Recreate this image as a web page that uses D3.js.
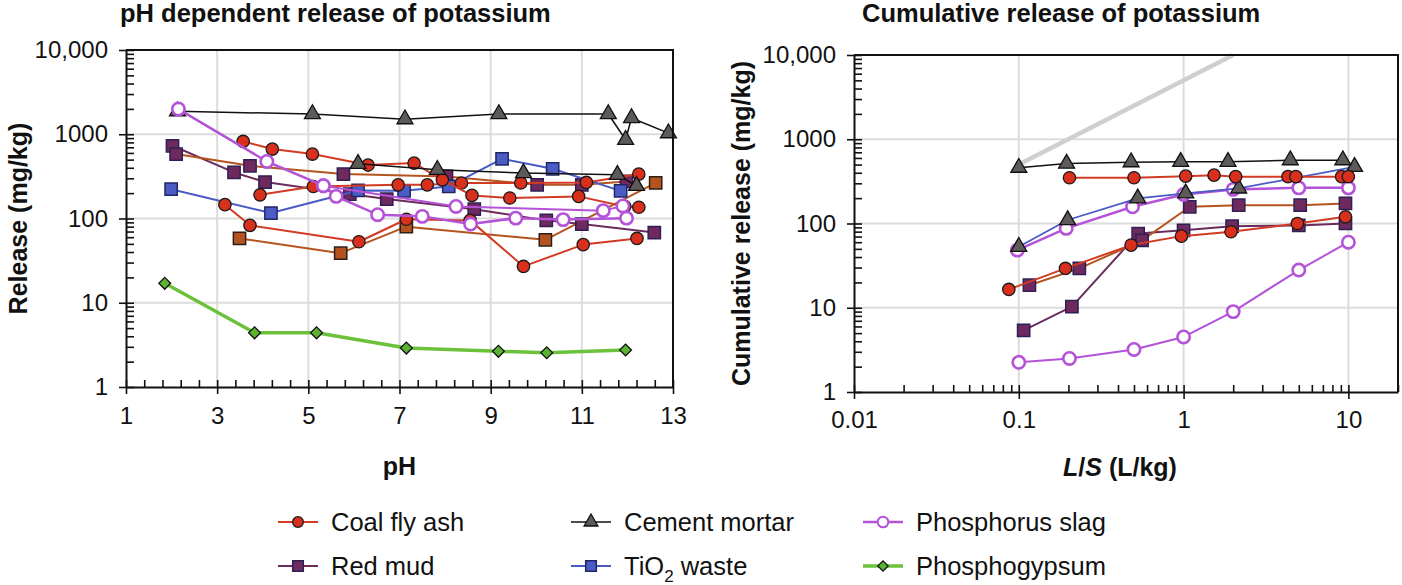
<!DOCTYPE html>
<html><head><meta charset="utf-8">
<script src="https://cdn.jsdelivr.net/npm/d3@7"></script>
<style>body{margin:0;background:#fff}svg{display:block;font-family:"Liberation Sans",Arial,sans-serif}</style>
</head><body><svg id="c" width="1402" height="585"></svg>
<script>
// ---------- DATA: pH dependent release (pH, mg/kg) ----------
const phCoalFlyAsh1 = [[3.57,822],[4.21,667],[5.09,582],[6.31,431],[7.32,455],[7.94,288],[8.59,188],[9.42,175],[10.93,183],[11.94,139],[12.25,136]];
const phCoalFlyAsh2 = [[3.94,191],[5.11,240],[6.97,251],[7.61,251],[8.36,264],[9.66,264],[11.1,268],[12.25,337]];
const phCoalFlyAsh3 = [[3.17,146],[3.72,83],[6.11,53],[7.15,98],[8.55,95],[9.72,27],[11.03,49],[12.21,58]];
const phCement1 = [[2.13,1870],[5.09,1740],[7.12,1510],[9.18,1740],[11.58,1740],[11.96,860],[12.09,1560],[12.9,1030]];
const phCement2 = [[6.09,446],[7.83,379],[9.72,346],[11.78,330],[12.2,244]];
const phRedMud1 = [[2.02,730],[3.37,352],[4.05,271],[5.91,195],[6.72,170],[8.64,129],[10.22,95],[11.0,86],[12.59,68]];
const phRedMud2 = [[2.1,582],[3.72,422],[5.77,337],[8.03,316],[10.02,251],[11.0,251],[11.98,275]];
const phRedMud3 = [[3.49,58],[5.71,38.8],[7.15,80],[10.2,55.8],[12.62,264]];
const phTiO2 = [[1.99,223],[4.18,116],[6.09,215],[7.1,213],[8.08,240],[9.25,511],[10.36,389],[11.85,213]];
const phPSlag1 = [[2.15,1990],[4.09,475],[5.33,245],[5.61,183],[6.52,111],[7.5,106],[8.56,86],[9.55,101],[10.59,97],[11.98,101]];
const phPSlag2 = [[5.33,245],[8.24,139],[11.47,124],[11.9,141]];
const phPhosphogypsum = [[1.85,17],[3.82,4.4],[5.18,4.4],[7.15,2.9],[9.17,2.65],[10.23,2.55],[11.96,2.75]];

// ---------- DATA: cumulative release (L/S, mg/kg) ----------
const lsCement1 = [[0.1,460],[0.195,515],[0.48,535],[0.96,540],[1.86,540],[4.44,565],[9.25,565]];
const lsCement2 = [[0.1,53],[0.198,110],[0.527,199],[1.03,228],[2.16,261],[10.9,471]];
const lsCoalFlyAsh1 = [[0.203,349],[0.5,349],[1.03,365],[1.53,375],[2.07,360],[4.3,360],[4.8,360],[9.1,360],[9.99,360]];
const lsCoalFlyAsh2 = [[0.087,16.5],[0.192,29.3],[0.48,55.4],[0.97,70.8],[1.94,79.8],[4.9,100],[9.6,120]];
const lsRedMud1 = [[0.116,18.5],[0.233,29.3],[0.56,63],[1.09,158],[2.16,165],[5.1,165],[9.6,173]];
const lsRedMud2 = [[0.107,5.4],[0.21,10.3],[0.53,76],[1.0,83],[1.97,93],[5.0,95],[9.6,100]];
const lsPSlag1 = [[0.098,48.3],[0.194,87.5],[0.49,158],[1.0,221],[2.0,254],[5.0,265],[10,265]];
const lsPSlag2 = [[0.1,2.25],[0.203,2.5],[0.5,3.2],[1.0,4.5],[2.0,9.0],[5.0,28],[10,60]];
const lsLimit = [[0.1,500],[2,10000]];

// ---------- TICKS / LABELS ----------
const phTicks = [1,3,5,7,9,11,13];
const logTicks = [1,10,100,1000,10000];
const logTickLabels = ["1","10","100","1000","10,000"];
const lsTicks = [0.01,0.1,1,10];
const lsTickLabels = ["0.01","0.1","1","10"];
const legendLabels = ["Coal fly ash","Cement mortar","Phosphorus slag","Red mud","TiO2 waste","Phosphogypsum"];
const titles = ["pH dependent release of potassium","Cumulative release of potassium"];

// ---------- STYLES ----------
const ST = {
  cfa:   {line:"#d23a24", lw:2,   marker:"circle",   fill:"#d9301e", stroke:"#1a1a1a", sw:1.3, size:120},
  cem:   {line:"#111",    lw:1.5, marker:"triangle", fill:"#5e5a5a", stroke:"#111",    sw:1.3, size:110},
  cemB:  {line:"#4a5ac5", lw:1.8, marker:"triangle", fill:"#5e5a5a", stroke:"#111",    sw:1.3, size:110},
  rm:    {line:"#6b2c5c", lw:2,   marker:"square",   fill:"#6e2a5e", stroke:"#2e1f55", sw:1.5, size:150},
  rmB:   {line:"#b5541f", lw:2,   marker:"square",   fill:"#6e2a5e", stroke:"#2e1f55", sw:1.5, size:150},
  brown: {line:"#b5541f", lw:2,   marker:"square",   fill:"#b5531e", stroke:"#2b2018", sw:1.5, size:150},
  tio2:  {line:"#4a5ac5", lw:2,   marker:"square",   fill:"#4b5cc4", stroke:"#1f2766", sw:1.5, size:150},
  ps:    {line:"#b452d8", lw:2.5, marker:"circle",   fill:"#fff",    stroke:"#b452d8", sw:2.6, size:120},
  psThin:{line:"#b452d8", lw:2,   marker:"circle",   fill:"#fff",    stroke:"#b452d8", sw:2.6, size:120},
  pg:    {line:"#6cc13a", lw:3.5, marker:"diamond",  fill:"#5db233", stroke:"#111",    sw:1.3, size:70},
  limit: {line:"#cfcfcf", lw:4.5, marker:null}
};
const TICK_FS = 24, TITLE_FS = 25.5, AXT_FS = 25, LEG_FS = 25.5;

const svg = d3.select("#c");

function symbolPath(st){
  const t = st.marker==="circle"?d3.symbolCircle:st.marker==="triangle"?d3.symbolTriangle:d3.symbolSquare;
  return d3.symbol().type(t).size(st.size)();
}
function drawSeries(g, xs, ys, data, st){
  g.append("path").datum(data)
    .attr("d", d3.line().x(d=>xs(d[0])).y(d=>ys(d[1])))
    .attr("fill","none").attr("stroke",st.line).attr("stroke-width",st.lw)
    .attr("stroke-linejoin","round");
  if(!st.marker) return;
  g.selectAll(null).data(data).join("path")
    .attr("transform", d=>`translate(${xs(d[0])},${ys(d[1])})${st.marker==="diamond"?" rotate(45)":""}`)
    .attr("d", symbolPath(st))
    .attr("fill",st.fill).attr("stroke",st.stroke).attr("stroke-width",st.sw);
}
function styleAxis(g){
  g.select(".domain").attr("stroke","#111").attr("stroke-width",2);
  g.selectAll(".tick line").attr("stroke","#111").attr("stroke-width",1.6);
  g.selectAll("text").attr("font-size",TICK_FS).attr("fill","#111")
    .attr("font-family",'"Liberation Sans",Arial,sans-serif');
}
const labelOf = (vals, labs) => d => labs[vals.indexOf(d)];

// ================= LEFT CHART =================
const L = {x0:126, x1:673, y0:50, y1:387};
const xL = d3.scaleLinear().domain([1,13]).range([L.x0,L.x1]);
const yL = d3.scaleLog().domain([1,10000]).range([L.y1,L.y0]);
const minorLog = d3.range(0,4).flatMap(e=>d3.range(1,10).map(m=>m*Math.pow(10,e))).concat([10000]);

const gl = svg.append("g");
gl.selectAll(null).data(phTicks.slice(1,-1)).join("line")
  .attr("x1",d=>xL(d)).attr("x2",d=>xL(d)).attr("y1",L.y0).attr("y2",L.y1)
  .attr("stroke","#dcdcdc").attr("stroke-width",2);
gl.selectAll(null).data(logTicks.slice(1,-1)).join("line")
  .attr("y1",d=>yL(d)).attr("y2",d=>yL(d)).attr("x1",L.x0).attr("x2",L.x1)
  .attr("stroke","#dcdcdc").attr("stroke-width",2);

drawSeries(gl,xL,yL,phRedMud3,ST.brown);
drawSeries(gl,xL,yL,phRedMud1,ST.rm);
drawSeries(gl,xL,yL,phRedMud2,ST.rmB);
drawSeries(gl,xL,yL,phTiO2,ST.tio2);
drawSeries(gl,xL,yL,phCoalFlyAsh3,ST.cfa);
drawSeries(gl,xL,yL,phCoalFlyAsh2,ST.cfa);
drawSeries(gl,xL,yL,phCoalFlyAsh1,ST.cfa);
drawSeries(gl,xL,yL,phCement2,ST.cem);
drawSeries(gl,xL,yL,phCement1,ST.cem);
drawSeries(gl,xL,yL,phPSlag2,ST.psThin);
drawSeries(gl,xL,yL,phPSlag1,ST.ps);
drawSeries(gl,xL,yL,phPhosphogypsum,ST.pg);

const phMinor = d3.range(0,31).map(i=>1+i*0.4);
const axLx = gl.append("g").attr("transform",`translate(0,${L.y1})`)
  .call(d3.axisBottom(xL).tickValues(phTicks).tickSize(7).tickSizeOuter(0).tickPadding(13).tickFormat(d3.format("d")));
styleAxis(axLx);
const axLx2 = gl.append("g").attr("transform",`translate(0,${L.y1})`)
  .call(d3.axisTop(xL).tickValues(phMinor).tickSize(7).tickSizeOuter(0).tickFormat(""));
styleAxis(axLx2); axLx2.select(".domain").remove();
const axLy = gl.append("g").attr("transform",`translate(${L.x0},0)`)
  .call(d3.axisLeft(yL).tickValues(logTicks).tickSize(7).tickSizeOuter(0).tickPadding(11).tickFormat(labelOf(logTicks,logTickLabels)));
styleAxis(axLy);
const axLy2 = gl.append("g").attr("transform",`translate(${L.x0},0)`)
  .call(d3.axisRight(yL).tickValues(minorLog).tickSize(8).tickSizeOuter(0).tickFormat(""));
styleAxis(axLy2); axLy2.select(".domain").remove();
gl.append("path").attr("d",`M${L.x0},${L.y0}H${L.x1}V${L.y1}`).attr("fill","none").attr("stroke","#111").attr("stroke-width",2);

gl.append("text").attr("x",120).attr("y",22).text(titles[0])
  .attr("font-size",TITLE_FS).attr("font-weight","bold").attr("fill","#111");
gl.append("text").attr("transform",`translate(27,${(L.y0+L.y1)/2}) rotate(-90)`).attr("text-anchor","middle")
  .text("Release (mg/kg)").attr("font-size",AXT_FS).attr("font-weight","bold").attr("fill","#111");
gl.append("text").attr("x",(L.x0+L.x1)/2).attr("y",475).attr("text-anchor","middle")
  .text("pH").attr("font-size",AXT_FS).attr("font-weight","bold").attr("fill","#111");

// ================= RIGHT CHART =================
const R = {x0:854, x1:1398, y0:55, y1:392};
const xR = d3.scaleLog().domain([0.01,20]).range([R.x0,R.x1]);
const yR = d3.scaleLog().domain([1,10000]).range([R.y1,R.y0]);
const lsMinor = [-2,-1,0,1].flatMap(e=>d3.range(1,10).map(m=>m*Math.pow(10,e))).filter(v=>v<=20.0001);

const gr = svg.append("g");
gr.selectAll(null).data(lsTicks.slice(1)).join("line")
  .attr("x1",d=>xR(d)).attr("x2",d=>xR(d)).attr("y1",R.y0).attr("y2",R.y1)
  .attr("stroke","#dcdcdc").attr("stroke-width",2);
gr.selectAll(null).data(logTicks.slice(1,-1)).join("line")
  .attr("y1",d=>yR(d)).attr("y2",d=>yR(d)).attr("x1",R.x0).attr("x2",R.x1)
  .attr("stroke","#dcdcdc").attr("stroke-width",2);

drawSeries(gr,xR,yR,lsLimit,ST.limit);
drawSeries(gr,xR,yR,lsRedMud2,ST.rm);
drawSeries(gr,xR,yR,lsRedMud1,ST.rmB);
drawSeries(gr,xR,yR,lsCoalFlyAsh2,ST.cfa);
drawSeries(gr,xR,yR,lsPSlag2,ST.psThin);
drawSeries(gr,xR,yR,lsPSlag1,ST.ps);
drawSeries(gr,xR,yR,lsCement2,ST.cemB);
drawSeries(gr,xR,yR,lsCoalFlyAsh1,ST.cfa);
drawSeries(gr,xR,yR,lsCement1,ST.cem);

const axRx = gr.append("g").attr("transform",`translate(0,${R.y1})`)
  .call(d3.axisBottom(xR).tickValues(lsTicks).tickSize(7).tickSizeOuter(0).tickPadding(12).tickFormat(labelOf(lsTicks,lsTickLabels)));
styleAxis(axRx);
const axRx2 = gr.append("g").attr("transform",`translate(0,${R.y1})`)
  .call(d3.axisTop(xR).tickValues(lsMinor).tickSize(7).tickSizeOuter(0).tickFormat(""));
styleAxis(axRx2); axRx2.select(".domain").remove();
const axRy = gr.append("g").attr("transform",`translate(${R.x0},0)`)
  .call(d3.axisLeft(yR).tickValues(logTicks).tickSize(7).tickSizeOuter(0).tickPadding(11).tickFormat(labelOf(logTicks,logTickLabels)));
styleAxis(axRy);
const axRy2 = gr.append("g").attr("transform",`translate(${R.x0},0)`)
  .call(d3.axisRight(yR).tickValues(minorLog).tickSize(8).tickSizeOuter(0).tickFormat(""));
styleAxis(axRy2); axRy2.select(".domain").remove();
gr.append("path").attr("d",`M${R.x0},${R.y0}H${R.x1}V${R.y1}`).attr("fill","none").attr("stroke","#111").attr("stroke-width",2);

gr.append("text").attr("x",862).attr("y",22).text(titles[1])
  .attr("font-size",TITLE_FS).attr("font-weight","bold").attr("fill","#111");
gr.append("text").attr("transform",`translate(750,${(R.y0+R.y1)/2}) rotate(-90)`).attr("text-anchor","middle")
  .text("Cumulative release (mg/kg)").attr("font-size",AXT_FS).attr("font-weight","bold").attr("fill","#111");
const xt = gr.append("text").attr("x",1120).attr("y",476).attr("text-anchor","middle")
  .attr("font-size",AXT_FS).attr("font-weight","bold").attr("fill","#111");
xt.append("tspan").attr("font-style","italic").text("L");
xt.append("tspan").text("/");
xt.append("tspan").attr("font-style","italic").text("S");
xt.append("tspan").text(" (L/kg)");

// ================= LEGEND =================
const legendStyles = [ST.cfa, ST.cem, ST.ps, ST.rm, ST.tio2, ST.pg];
const legendCols = [278, 571, 863];
const legendRows = [522, 566];
const lg = svg.append("g");
legendLabels.forEach((lab,i)=>{
  const st = legendStyles[i];
  const x = legendCols[i%3], y = legendRows[Math.floor(i/3)];
  const g = lg.append("g").attr("transform",`translate(${x},${y})`);
  const sx = d3.scaleLinear().domain([0,1]).range([0,40]);
  drawSeries(g, sx, ()=>0, [[0,0],[1,0]], Object.assign({}, st, {marker:null}));
  g.append("path").attr("transform",`translate(20,0)${st.marker==="diamond"?" rotate(45)":""}`)
    .attr("d", symbolPath(Object.assign({},st,{size:st.size*0.75})))
    .attr("fill",st.fill).attr("stroke",st.stroke).attr("stroke-width",st.fill==="#fff"?2:st.sw);
  const t = g.append("text").attr("x",53).attr("y",9).attr("font-size",LEG_FS).attr("fill","#111");
  if(lab==="TiO2 waste"){
    t.append("tspan").text("TiO");
    t.append("tspan").attr("font-size",17).attr("dy",7).text("2");
    t.append("tspan").attr("dy",-7).text(" waste");
  } else t.text(lab);
});
</script></body></html>
